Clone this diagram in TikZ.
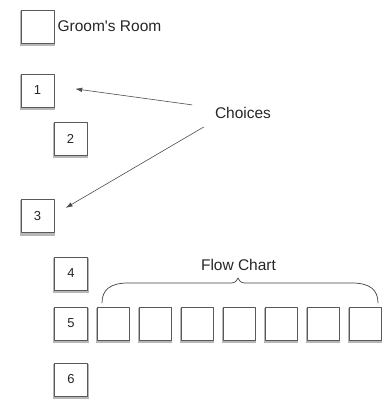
\documentclass[tikz,border=0pt]{standalone}
\usepackage{fontspec}
\setmainfont{Liberation Sans}
\usetikzlibrary{arrows.meta,shadows,positioning}

\begin{document}
\begin{tikzpicture}[x=1pt,y=-1pt,line cap=round,line join=round,>={Latex[length=7pt,width=4.5pt]},
  room/.style={draw=black!65,line width=0.8pt,fill=white,minimum width=33pt,minimum height=33pt,inner sep=0pt,
    font=\fontsize{13}{13}\selectfont,text=black!85,
    drop shadow={shadow xshift=0pt,shadow yshift=-2pt,shadow scale=1.07,opacity=0.4,fill=black!70}},
  flow/.style={room,minimum width=32pt},
  lbl/.style={font=\fontsize{15.5}{17}\selectfont,inner sep=0pt,text=black!85},
  pointer/.style={->,draw=black!70,line width=0.6pt}]
\useasboundingbox (0,0) rectangle (381,402);
\node[room] (groom) at (37.5,26.5) {};
\node[lbl,right=3pt of groom] (groomlbl) {Groom\textquotesingle s Room};
\node[room] (r1) at (37.5,90.5) {1};
\node[room] (r2) at (70.5,138.5) {2};
\node[room] (r3) at (37.5,216) {3};
\node[room] (r4) at (71,273.5) {4};
\node[room] (r5) at (71,323.5) {5};
\node[room] (r6) at (71,379.5) {6};
\foreach \i in {1,...,7}
  \node[flow] (f\i) at (71+42*\i,323.5) {};
\node[lbl] (choices) at (243,113) {Choices};
\draw[pointer,shorten <=23pt,shorten >=21pt] ([yshift=5pt]choices.west) -- ([yshift=4.5pt]r1.east);
\draw[pointer,shorten <=13pt,shorten >=13pt] ([yshift=-7.5pt]choices.west) -- ([yshift=1.5pt]r3.east);
\draw[black!75,line width=0.7pt] (102,303) .. controls (102,290) and (110,283) .. (128,283) -- (231,283)
  .. controls (235,283) and (237,281) .. (238,278) .. controls (239,281) and (241,283) .. (245,283) -- (352,283)
  .. controls (370,283) and (378,290) .. (378,303);
\node[lbl] (flowlbl) at (238.5,265) {Flow Chart};
\end{tikzpicture}
\end{document}
